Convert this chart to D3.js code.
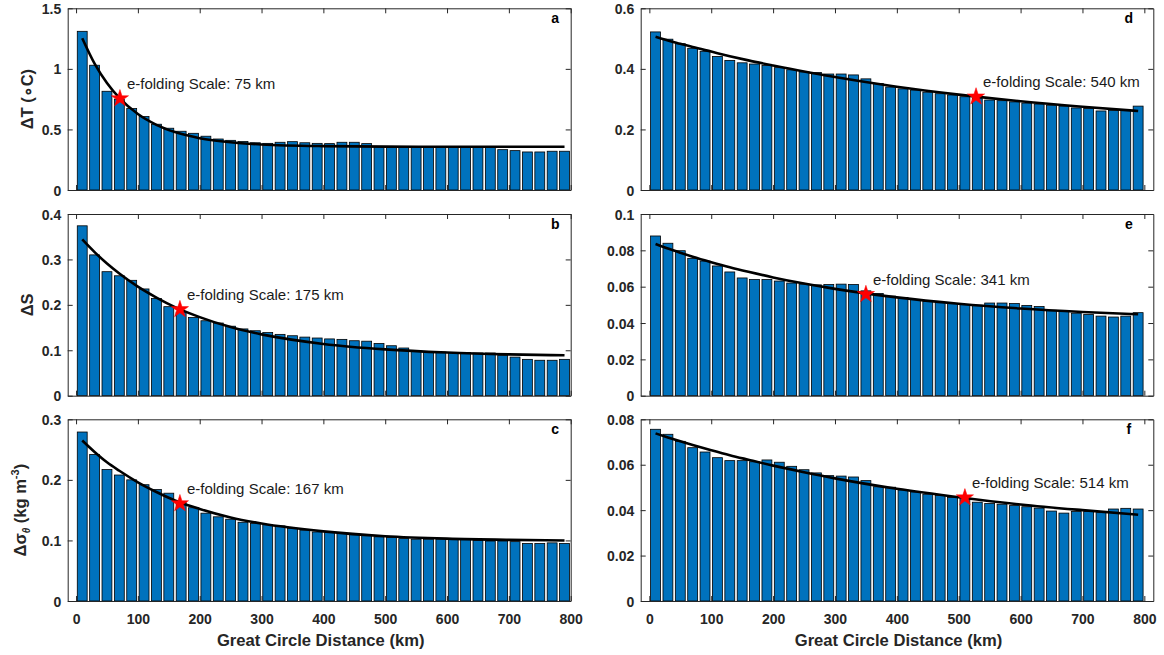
<!DOCTYPE html>
<html>
<head>
<meta charset="utf-8">
<script src="https://cdn.jsdelivr.net/npm/d3@7"></script>
<style>
  body { margin: 0; background: white; }
  text { font-family: "Liberation Sans", Arial, Helvetica, sans-serif; }
</style>
</head>
<body>
<div id="chart"></div>
<script>

// bar centres (km), 20 km bins
const distance = [10, 30, 50, 70, 90, 110, 130, 150, 170, 190,
                  210, 230, 250, 270, 290, 310, 330, 350, 370, 390,
                  410, 430, 450, 470, 490, 510, 530, 550, 570, 590,
                  610, 630, 650, 670, 690, 710, 730, 750, 770, 790];

// left column: a = temperature, b = salinity, c = density
const barsA = [1.31, 1.03, 0.815, 0.75, 0.672, 0.606, 0.543, 0.51, 0.485, 0.468,
               0.444, 0.421, 0.41, 0.40, 0.39, 0.385, 0.394, 0.399, 0.39, 0.385,
               0.383, 0.394, 0.394, 0.383, 0.36, 0.357, 0.355, 0.35, 0.35, 0.355,
               0.355, 0.355, 0.355, 0.355, 0.333, 0.325, 0.314, 0.314, 0.32, 0.32];
const barsB = [0.374, 0.310, 0.273, 0.264, 0.254, 0.235, 0.214, 0.196, 0.184, 0.172,
               0.165, 0.160, 0.153, 0.147, 0.143, 0.139, 0.135, 0.132, 0.129, 0.127,
               0.125, 0.124, 0.121, 0.120, 0.115, 0.110, 0.105, 0.099, 0.097, 0.096,
               0.095, 0.095, 0.094, 0.094, 0.089, 0.085, 0.080, 0.078, 0.078, 0.080];
const barsC = [0.279, 0.242, 0.217, 0.208, 0.200, 0.192, 0.184, 0.178, 0.163, 0.154,
               0.145, 0.139, 0.135, 0.130, 0.128, 0.126, 0.124, 0.120, 0.117, 0.114,
               0.113, 0.112, 0.111, 0.109, 0.106, 0.105, 0.103, 0.102, 0.102, 0.102,
               0.103, 0.102, 0.100, 0.099, 0.099, 0.098, 0.095, 0.095, 0.096, 0.095];
// right column: d, e, f
const barsD = [0.522, 0.498, 0.483, 0.468, 0.458, 0.441, 0.428, 0.420, 0.416, 0.411,
               0.404, 0.397, 0.390, 0.388, 0.383, 0.383, 0.380, 0.367, 0.352, 0.340,
               0.334, 0.330, 0.323, 0.318, 0.314, 0.308, 0.303, 0.297, 0.295, 0.291,
               0.287, 0.284, 0.280, 0.277, 0.271, 0.269, 0.261, 0.263, 0.262, 0.277];
const barsE = [0.0879, 0.0839, 0.0798, 0.0756, 0.0741, 0.0714, 0.0681, 0.0648, 0.0639, 0.0639,
               0.0631, 0.0620, 0.0614, 0.0610, 0.0612, 0.0614, 0.0612, 0.0577, 0.0563, 0.0548,
               0.0541, 0.0530, 0.0519, 0.0512, 0.0507, 0.0501, 0.0498, 0.0510, 0.0510, 0.0507,
               0.0497, 0.0491, 0.0470, 0.0465, 0.0454, 0.0447, 0.0438, 0.0433, 0.0438, 0.0457];
const barsF = [0.0756, 0.0734, 0.0703, 0.0675, 0.0656, 0.0631, 0.0618, 0.0618, 0.0613, 0.0621,
               0.0611, 0.0593, 0.0578, 0.0564, 0.0552, 0.0550, 0.0546, 0.0530, 0.0503, 0.0501,
               0.0489, 0.0480, 0.0470, 0.0465, 0.0456, 0.0455, 0.0435, 0.0429, 0.0426, 0.0420,
               0.0415, 0.0409, 0.0396, 0.0387, 0.0394, 0.0394, 0.0389, 0.0405, 0.0408, 0.0405];

const fitDist = [10, 30, 50, 70, 100, 130, 160, 200, 250, 300, 400, 500, 600, 700, 790];
const fitA = [1.253, 1.043, 0.883, 0.760, 0.627, 0.538, 0.478, 0.428, 0.394, 0.376, 0.362, 0.358, 0.357, 0.357, 0.357];
const fitB = [0.344, 0.316, 0.291, 0.269, 0.240, 0.216, 0.195, 0.173, 0.151, 0.135, 0.114, 0.102, 0.095, 0.091, 0.089];
const fitC = [0.265, 0.246, 0.229, 0.215, 0.196, 0.180, 0.166, 0.152, 0.138, 0.128, 0.115, 0.107, 0.103, 0.101, 0.100];
const fitD = [0.506, 0.494, 0.483, 0.472, 0.457, 0.442, 0.428, 0.411, 0.391, 0.373, 0.341, 0.315, 0.293, 0.275, 0.261];
const fitE = [0.0835, 0.0810, 0.0787, 0.0765, 0.0735, 0.0707, 0.0682, 0.0651, 0.0617, 0.0588, 0.0541, 0.0506, 0.0480, 0.0461, 0.0448];
const fitF = [0.0738, 0.0720, 0.0703, 0.0687, 0.0664, 0.0642, 0.0622, 0.0596, 0.0567, 0.0540, 0.0494, 0.0457, 0.0425, 0.0400, 0.0380];

// e-folding scale labels and star markers (order a..f)
const panelLetters = ["a", "b", "c", "d", "e", "f"];
const eFoldKm = [75, 175, 167, 540, 341, 514];
const starDist = [71, 168, 168, 528, 350, 510];
const starValue = [0.755, 0.190, 0.161, 0.308, 0.0558, 0.0455];

// ticks
const xTicks = [0, 100, 200, 300, 400, 500, 600, 700, 800];
const yTicksA = [0, 0.5, 1, 1.5];
const yTicksB = [0, 0.1, 0.2, 0.3, 0.4];
const yTicksC = [0, 0.1, 0.2, 0.3];
const yTicksD = [0, 0.2, 0.4, 0.6];
const yTicksE = [0, 0.02, 0.04, 0.06, 0.08, 0.1];
const yTicksF = [0, 0.02, 0.04, 0.06, 0.08];

const xTitle = "Great Circle Distance (km)";

// ---- layout ----
const svgWidth = 1164;
const svgHeight = 655;
const textColor = "#262626";

const cols = [
  {x0: 67.7, x1: 570.7, domain: [-13.5, 800]},
  {x0: 640.7, x1: 1153.3, domain: [-14, 814.5]}
];
const rows = [
  {y0: 8.3, y1: 190},
  {y0: 214, y1: 395.7},
  {y0: 419.3, y1: 601}
];

const panels = [
  {bars: barsA, fit: fitA, yTicks: yTicksA, col: 0, row: 0, label: "dT"},
  {bars: barsB, fit: fitB, yTicks: yTicksB, col: 0, row: 1, label: "dS"},
  {bars: barsC, fit: fitC, yTicks: yTicksC, col: 0, row: 2, label: "dSig"},
  {bars: barsD, fit: fitD, yTicks: yTicksD, col: 1, row: 0},
  {bars: barsE, fit: fitE, yTicks: yTicksE, col: 1, row: 1},
  {bars: barsF, fit: fitF, yTicks: yTicksF, col: 1, row: 2}
];

let svg = d3.select("#chart")
  .append("svg")
  .attr("width", svgWidth)
  .attr("height", svgHeight)
  .style("background-color", "white");

panels.forEach(function(p, i) {
  const col = cols[p.col];
  const row = rows[p.row];

  const xScale = d3.scaleLinear().domain(col.domain).range([col.x0, col.x1]);
  const yScale = d3.scaleLinear()
      .domain([0, p.yTicks[p.yTicks.length - 1]])
      .range([row.y1, row.y0]);

  let g = svg.append("g").attr("class", "panel-" + panelLetters[i]);

  // bars (width 0.8 of the 20 km bin)
  const barW = xScale(16) - xScale(0);
  g.append("g")
    .selectAll("rect")
    .data(distance)
    .join("rect")
      .attr("x", (d) => xScale(d) - barW / 2)
      .attr("width", barW)
      .attr("y", (d, j) => yScale(p.bars[j]))
      .attr("height", (d, j) => yScale(0) - yScale(p.bars[j]))
      .attr("fill", "#0072BD")
      .attr("stroke", "#000")
      .attr("stroke-width", 0.8);

  // fitted curve
  g.append("path")
    .datum(fitDist)
    .attr("fill", "none")
    .attr("stroke", "#000")
    .attr("stroke-width", 2.6)
    .attr("d", d3.line()
      .x((d) => xScale(d))
      .y((d, j) => yScale(p.fit[j]))
      .curve(d3.curveMonotoneX));

  // star at the e-folding scale
  const sx = xScale(starDist[i]);
  const sy = yScale(starValue[i]);
  g.append("path")
    .attr("d", d3.symbol(d3.symbolStar, 92)())
    .attr("transform", "translate(" + sx + "," + sy + ")")
    .attr("fill", "#ff0000")
    .attr("stroke", "#ff0000")
    .attr("stroke-width", 0.5);

  g.append("text")
    .attr("x", sx + 7)
    .attr("y", sy - 15)
    .attr("dy", "0.35em")
    .style("font-size", "15px")
    .attr("fill", "#1a1a1a")
    .text("e-folding Scale: " + eFoldKm[i] + " km");

  // axes box with inward ticks
  const showX = p.row === 2;
  let xAxisB = g.append("g")
    .attr("transform", "translate(0," + row.y1 + ")")
    .call(d3.axisBottom(xScale).tickValues(xTicks).tickSize(-5).tickSizeOuter(0).tickPadding(13)
      .tickFormat(showX ? d3.format("d") : ""));
  let xAxisT = g.append("g")
    .attr("transform", "translate(0," + row.y0 + ")")
    .call(d3.axisTop(xScale).tickValues(xTicks).tickSize(-5).tickSizeOuter(0).tickFormat(""));
  let yAxisL = g.append("g")
    .attr("transform", "translate(" + col.x0 + ",0)")
    .call(d3.axisLeft(yScale).tickValues(p.yTicks).tickSize(-5).tickSizeOuter(0).tickPadding(6.5)
      .tickFormat(d3.format("~g")));
  let yAxisR = g.append("g")
    .attr("transform", "translate(" + col.x1 + ",0)")
    .call(d3.axisRight(yScale).tickValues(p.yTicks).tickSize(-5).tickSizeOuter(0).tickFormat(""));

  [xAxisB, xAxisT, yAxisL, yAxisR].forEach(function(ax) {
    ax.select(".domain").attr("stroke", textColor).attr("stroke-width", 1);
    ax.selectAll(".tick line").attr("stroke", textColor).attr("stroke-width", 1);
    ax.selectAll("text")
      .style("font-size", "14px")
      .style("font-weight", "bold")
      .style("font-family", "'Liberation Sans', Arial, sans-serif")
      .attr("fill", textColor);
  });
  yAxisL.selectAll("text").attr("dy", "0.36em");

  // panel letter
  g.append("text")
    .attr("x", xScale(775))
    .attr("y", row.y0 + 14.5)
    .attr("text-anchor", "middle")
    .style("font-size", "14px")
    .style("font-weight", "bold")
    .attr("fill", "#000")
    .text(panelLetters[i]);

  // x axis title on bottom row
  if (showX) {
    g.append("text")
      .attr("x", (col.x0 + col.x1) / 2 + 1.5)
      .attr("y", 646)
      .attr("text-anchor", "middle")
      .style("font-size", "16.6px")
      .style("font-weight", "bold")
      .attr("fill", textColor)
      .text(xTitle);
  }

  // y axis titles on left column
  if (p.label) {
    const cy = (row.y0 + row.y1) / 2;
    const lx = p.label === "dSig" ? 26 : 32.5;
    let t = g.append("text")
      .attr("transform", "translate(" + lx + "," + cy + ") rotate(-90)")
      .attr("text-anchor", "middle")
      .style("font-size", "16.5px")
      .style("font-weight", "bold")
      .attr("fill", textColor);
    if (p.label === "dT") {
      t.text("\u0394T (\u2218C)");
    } else if (p.label === "dS") {
      t.text("\u0394S");
    } else {
      t.append("tspan").text("\u0394\u03c3");
      t.append("tspan").attr("dy", 4).style("font-size", "10px").style("font-style", "italic").text("\u03b8");
      t.append("tspan").attr("dy", -4).text(" (kg m");
      t.append("tspan").attr("dy", -7).style("font-size", "11px").text("-3");
      t.append("tspan").attr("dy", 7).text(")");
    }
  }
});

</script>
</body>
</html>
